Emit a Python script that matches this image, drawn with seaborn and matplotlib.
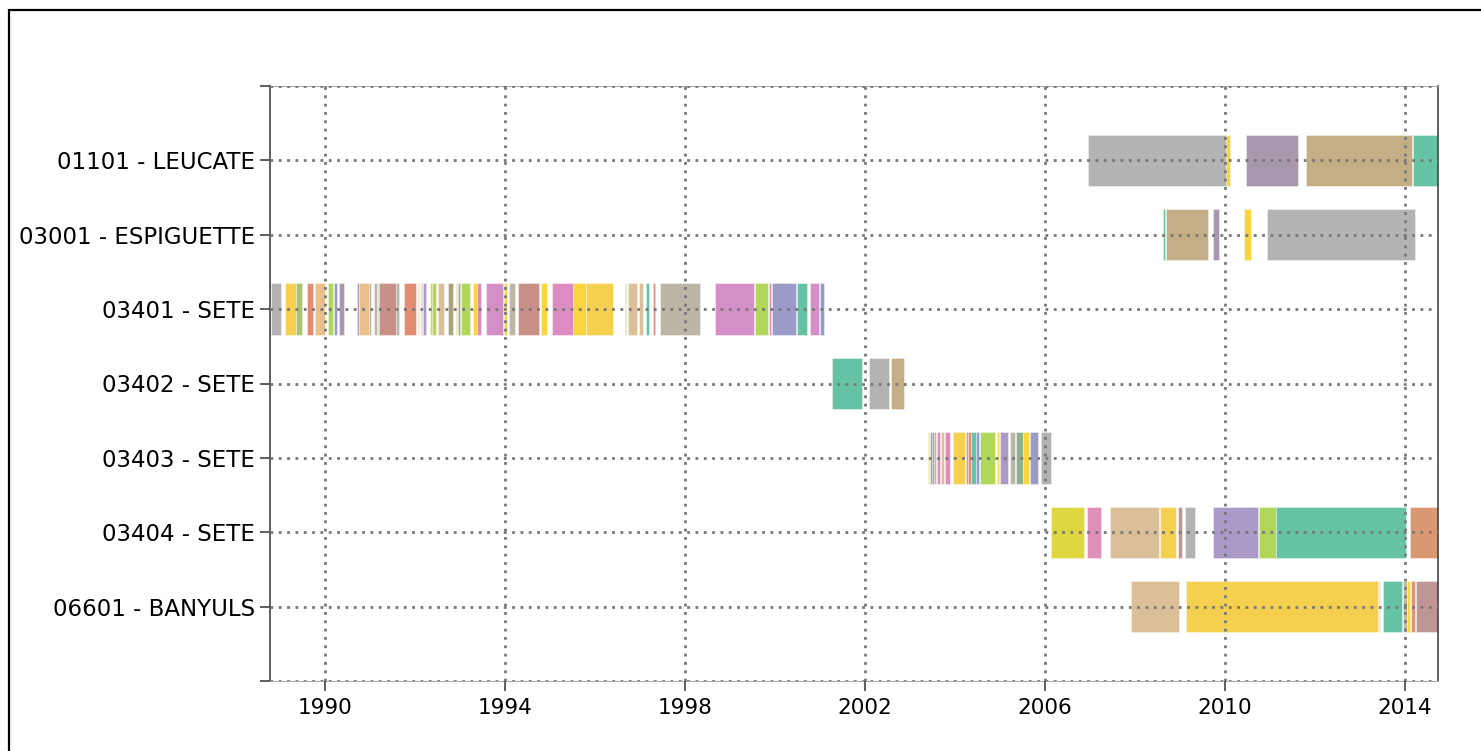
import matplotlib
matplotlib.use("Agg")
import matplotlib.pyplot as plt
from matplotlib.patches import Rectangle
import seaborn as sns

# Station labels, top to bottom
stations = ["01101 - LEUCATE", "03001 - ESPIGUETTE", "03401 - SETE", "03402 - SETE",
            "03403 - SETE", "03404 - SETE", "06601 - BANYULS"]

# Colour names used by the deployment periods
palette = {
    "gray": "#b3b3b3", "yellow": "#f5d04f", "gold": "#f9d640", "teal": "#66c2a5",
    "tan": "#c4ae86", "mauve": "#a898ae", "purple": "#ab9ac8", "lime": "#b0d65a",
    "olive": "#dfd73f", "pink": "#e08fb8", "ltan": "#dbbf98", "orange": "#d99872",
    "rose": "#c09598", "salmon": "#e38c74", "taupe": "#bdb5a6", "magenta": "#d48fc6",
    "blue": "#9b9bc8", "khaki": "#a8a37a", "sage": "#8fb08c", "brown": "#c99088",
    "peach": "#e8c08a", "lgreen": "#a9c46a", "dpink": "#dc8cc0", "lblue": "#8da0cb",
}

# Deployment periods per station (decimal years)
leucate_start = [2006.96, 2010.02, 2010.47, 2011.80, 2014.18]
leucate_end = [2010.02, 2010.11, 2011.62, 2014.16, 2014.90]
leucate_col = ["gray", "gold", "mauve", "tan", "teal"]

espig_start = [2008.62, 2008.69, 2009.74, 2010.42, 2010.92]
espig_end = [2008.66, 2009.62, 2009.87, 2010.57, 2014.22]
espig_col = ["teal", "tan", "mauve", "gold", "gray"]

sete1_start = [1988.80, 1989.12, 1989.36, 1989.60, 1989.78, 1990.06, 1990.20, 1990.32,
               1990.72, 1990.76, 1990.97, 1991.08, 1991.17, 1991.21, 1991.58, 1991.76,
               1992.07, 1992.13, 1992.19, 1992.33, 1992.38, 1992.52, 1992.73, 1992.91,
               1992.95, 1993.02, 1993.30, 1993.38, 1993.57, 1993.98, 1994.09, 1994.29,
               1994.81, 1995.05, 1995.52, 1995.80, 1996.66, 1996.73, 1996.97, 1997.14,
               1997.30, 1997.44, 1998.67, 1999.55, 1999.87, 1999.93, 2000.49, 2000.77,
               2001.01]
sete1_end = [1989.02, 1989.36, 1989.50, 1989.73, 1990.00, 1990.17, 1990.26, 1990.42,
             1990.76, 1990.97, 1991.02, 1991.15, 1991.20, 1991.58, 1991.64, 1992.02,
             1992.10, 1992.16, 1992.24, 1992.37, 1992.47, 1992.65, 1992.84, 1992.94,
             1993.00, 1993.22, 1993.37, 1993.46, 1993.96, 1994.04, 1994.22, 1994.75,
             1994.94, 1995.52, 1995.80, 1996.41, 1996.70, 1996.93, 1997.07, 1997.20,
             1997.33, 1998.33, 1999.53, 1999.85, 1999.90, 2000.47, 2000.72, 2000.98,
             2001.09]
sete1_col = ["gray", "yellow", "lgreen", "salmon", "peach", "lime", "blue", "mauve",
             "purple", "peach", "taupe", "taupe", "teal", "brown", "taupe", "salmon",
             "ltan", "salmon", "purple", "olive", "lime", "ltan", "khaki", "lime",
             "khaki", "lime", "gold", "dpink", "magenta", "gold", "taupe", "brown",
             "gold", "dpink", "gold", "yellow", "lime", "ltan", "ltan", "teal",
             "salmon", "taupe", "magenta", "lime", "dpink", "blue", "teal", "magenta",
             "lblue"]

sete2_start = [2001.26, 2002.09, 2002.57]
sete2_end = [2001.94, 2002.53, 2002.87]
sete2_col = ["teal", "gray", "tan"]

sete3_start = [2003.39, 2003.44, 2003.49, 2003.53, 2003.59, 2003.68, 2003.78, 2003.96,
               2004.24, 2004.29, 2004.36, 2004.47, 2004.56, 2004.94, 2005.00, 2005.21,
               2005.36, 2005.52, 2005.67, 2005.90]
sete3_end = [2003.43, 2003.48, 2003.53, 2003.58, 2003.67, 2003.76, 2003.89, 2004.23,
             2004.28, 2004.35, 2004.47, 2004.53, 2004.89, 2004.98, 2005.18, 2005.34,
             2005.50, 2005.64, 2005.85, 2006.14]
sete3_col = ["olive", "purple", "khaki", "taupe", "dpink", "ltan", "dpink", "yellow",
             "orange", "salmon", "teal", "lblue", "lime", "gold", "purple", "taupe",
             "sage", "gold", "blue", "gray"]

sete4_start = [2006.13, 2006.94, 2007.44, 2008.55, 2008.96, 2009.10, 2009.74, 2010.76,
               2011.13, 2014.10]
sete4_end = [2006.87, 2007.24, 2008.53, 2008.91, 2009.05, 2009.34, 2010.74, 2011.12,
             2014.02, 2014.90]
sete4_col = ["olive", "pink", "ltan", "yellow", "rose", "gray", "purple", "lime",
             "teal", "orange"]

banyuls_start = [2007.90, 2009.13, 2013.41, 2013.50, 2013.96, 2014.04, 2014.13, 2014.24]
banyuls_end = [2008.98, 2013.39, 2013.44, 2013.93, 2014.04, 2014.11, 2014.22, 2014.90]
banyuls_col = ["ltan", "yellow", "ltan", "teal", "taupe", "gold", "orange", "rose"]

periods = [
    (leucate_start, leucate_end, leucate_col),
    (espig_start, espig_end, espig_col),
    (sete1_start, sete1_end, sete1_col),
    (sete2_start, sete2_end, sete2_col),
    (sete3_start, sete3_end, sete3_col),
    (sete4_start, sete4_end, sete4_col),
    (banyuls_start, banyuls_end, banyuls_col),
]

year_ticks = [1990, 1994, 1998, 2002, 2006, 2010, 2014]

sns.set_theme(style="white")
plt.rcParams["font.family"] = ["DejaVu Sans"]

fig = plt.figure(figsize=(14.81, 7.51), dpi=100)
ax = fig.add_axes([270 / 1481, 1 - 681 / 751, (1438 - 270) / 1481, (681 - 86) / 751])

n = len(stations)
bar_h = 0.69
for i, (starts, ends, cols) in enumerate(periods):
    ypos = n - i
    spans = [(s, e - s) for s, e in zip(starts, ends)]
    ax.broken_barh(spans, (ypos - bar_h / 2, bar_h),
                   facecolors=[palette[c] for c in cols],
                   edgecolor="#ffffffaa", linewidth=0.4, zorder=2)

ax.set_xlim(1988.78, 2014.73)
ax.set_ylim(0, n + 1)
ax.set_xticks(year_ticks)
ax.set_xticklabels([str(y) for y in year_ticks])
ax.set_yticks(range(0, n + 2))
ax.set_yticklabels([""] + stations[::-1] + [""])

ax.grid(True, color="#777777", linestyle=(0, (1, 2)), linewidth=2.0, zorder=3)
ax.set_axisbelow(False)
for ln in ax.get_xgridlines() + ax.get_ygridlines():
    ln.set_zorder(3)

ax.tick_params(axis="both", which="both", direction="out", length=7, width=1.2,
               color="#444444", labelcolor="black", pad=5)
ax.tick_params(axis="x", bottom=True, top=False, labelsize=15.5)
ax.tick_params(axis="y", left=True, right=False, labelsize=16.5, pad=4)

for side in ("left", "right"):
    ax.spines[side].set_visible(True)
    ax.spines[side].set_color("#444444")
    ax.spines[side].set_linewidth(1.2)
for side in ("top", "bottom"):
    ax.spines[side].set_visible(True)
    ax.spines[side].set_color("#aaaaaa")
    ax.spines[side].set_linewidth(0.8)

# Frame around the figure
fig.add_artist(Rectangle((9 / 1481, -0.1), 2.0, (751 - 10) / 751 + 0.1,
                         transform=fig.transFigure, fill=False,
                         edgecolor="black", linewidth=1.6))

fig.savefig("out.png", dpi=100, facecolor="white")
